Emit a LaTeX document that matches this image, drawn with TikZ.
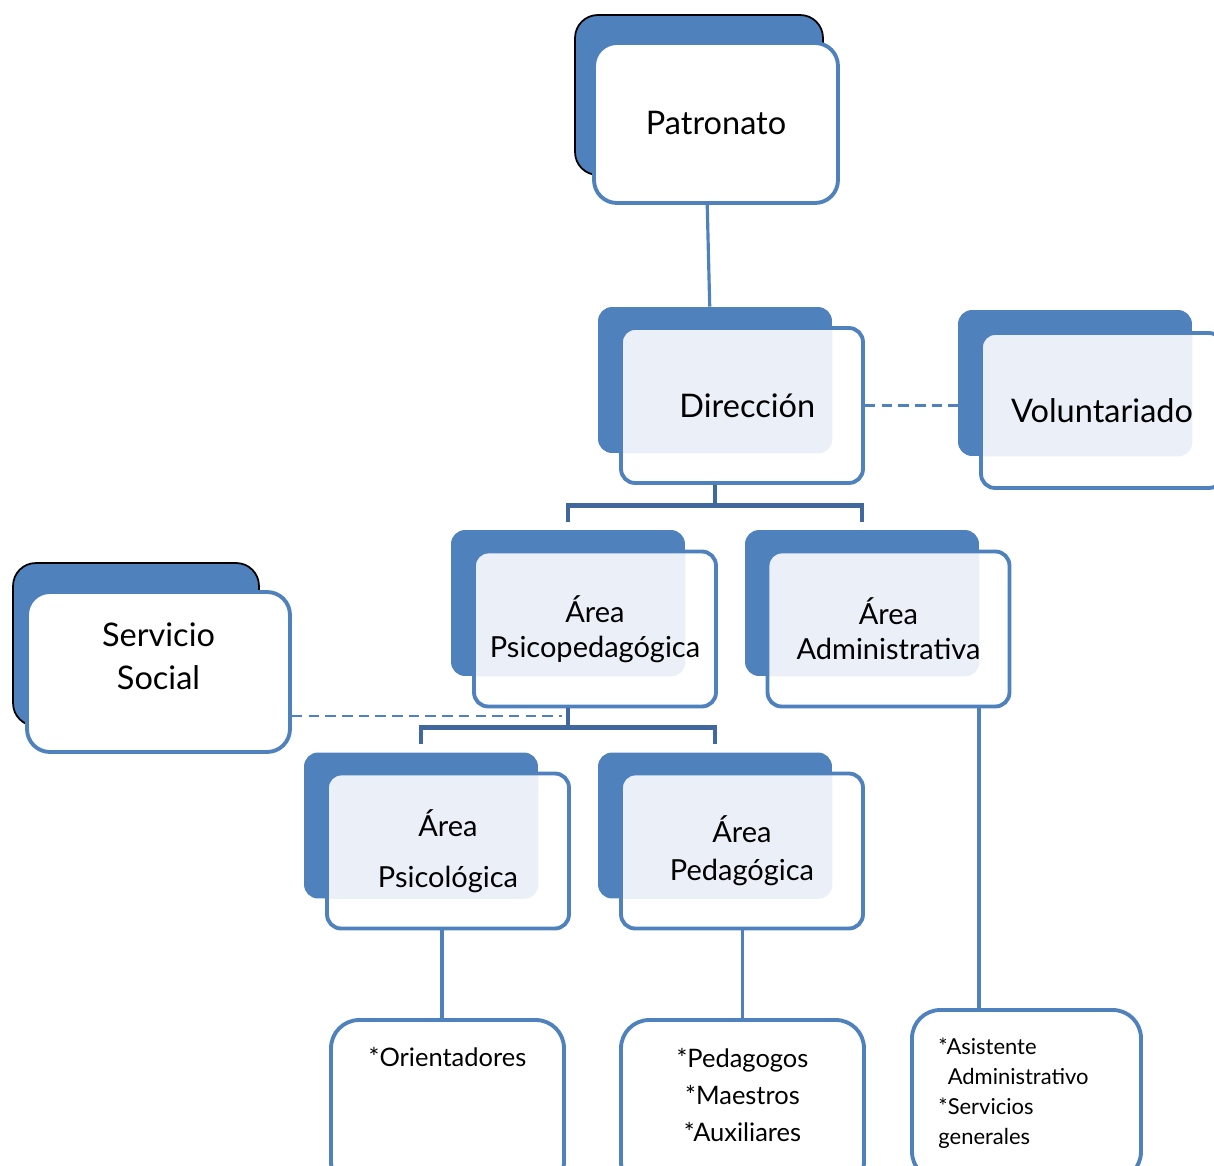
\documentclass[tikz,border=0pt]{standalone}
\usepackage{fontspec}
\setmainfont{Lato}
\usetikzlibrary{positioning,calc}
\definecolor{orgblue}{HTML}{4F81BD}
\definecolor{orgdark}{HTML}{41689C}
\definecolor{orgpale}{HTML}{EBF0F8}
\newcommand{\bigtxt}{\fontsize{18.5}{22}\selectfont}
\newcommand{\midtxt}{\fontsize{16.5}{20}\selectfont}
\newcommand{\leaftxt}{\fontsize{14.5}{17.5}\selectfont}
\newcommand{\smalltxt}{\fontsize{12.5}{15}\selectfont}

\begin{document}
\begin{tikzpicture}[x=0.02cm, y=-0.02cm,
  backbox/.style={rectangle, rounded corners=8pt, fill=orgblue, inner sep=0pt,
    minimum width=4.68cm, minimum height=2.92cm},
  frontbox/.style={rectangle, rounded corners=8pt, draw=orgblue, line width=2.2pt,
    fill=white, align=center, font=\midtxt, inner sep=0pt,
    minimum width=4.84cm, minimum height=3.1cm,
    path picture={\fill[orgpale, rounded corners=8pt]
      ([shift={(-40,-40)}]path picture bounding box.north west) rectangle (#1.south east);}},
  topback/.style={rectangle, rounded corners=13pt, fill=orgblue, draw=black, line width=1pt,
    inner sep=0pt, minimum width=4.96cm, minimum height=3.2cm},
  topfront/.style={rectangle, rounded corners=13pt, fill=white, draw=orgblue, line width=2.2pt,
    inner sep=0pt, minimum width=4.88cm, minimum height=3.2cm, align=center, font=\bigtxt},
  leaf/.style={rectangle, rounded corners=16pt, draw=orgblue, line width=2.2pt, fill=white,
    minimum height=3.4cm},
  leaftext/.style={inner sep=0pt, align=center, font=\leaftxt},
  tree/.style={orgdark, line width=2.8pt},
  link/.style={orgblue, line width=2.2pt},
  dashlink/.style={orgblue, line width=1.3pt, dash pattern=on 6pt off 3.5pt}]

\useasboundingbox (0,0) rectangle (1214,1166);

% upper levels
\node[topback] (patb) at (699,95) {};
\node[topfront] (patf) at (716,123) {Patronato};

\node[backbox] (dirb) at (715,380) {};
\node[frontbox=dirb, font=\bigtxt] (dirf) at (742,405.5) {\hspace{6pt}Dirección};

\node[backbox] (volb) at (1075,383) {};
\node[frontbox=volb, font=\bigtxt] (volf) at (1102,410.5) {Voluntariado};

\node[topback, minimum width=4.92cm, minimum height=3.26cm] (ssb) at (136,644.5) {};
\node[topfront, minimum width=5.26cm, text depth=18pt] (ssf) at (158.5,672) {Servicio\\[2pt]Social};

% areas
\node[backbox] (psicopedb) at (568,603) {};
\node[frontbox=psicopedb] (psicopedf) at (595,629) {Área\\Psicopedagógica};

\node[backbox] (adminb) at (862,603) {};
\node[frontbox=adminb] (adminf) at (888.5,629) {Área\\Administrativa};

\node[backbox] (psicolb) at (421,825.5) {};
\node[frontbox=psicolb] (psicolf) at (448,851) {Área\\[9pt]Psicológica};

\node[backbox] (pedb) at (715,825.5) {};
\node[frontbox=pedb] (pedf) at (742,851) {Área\\[1.5pt]Pedagógica};

% staff
\node[leaf, minimum width=4.66cm] (orient) at (447.5,1105) {};
\node[leaftext, below=0.58cm of orient.north] (orienttxt) {*Orientadores};

\node[leaf, minimum width=4.86cm] (pedag) at (742.5,1105) {};
\node[leaftext, below=0.6cm of pedag.north] (pedagtxt) {*Pedagogos\\[3.5pt]*Maestros\\[3.5pt]*Auxiliares};

\node[leaf, minimum width=4.58cm] (asist) at (1026.5,1095) {};
\node[leaftext, align=left, font=\smalltxt, below right=0.6cm and 0.56cm of asist.north west] (asisttxt)
  {*Asistente\\[2pt]\phantom{*}Administrativo\\[2pt]*Servicios\\[2pt]generales};

% connectors
\draw[link, line width=1.8pt] ([xshift=-5pt]patf.south) -- ([xshift=-3pt]dirb.north);
\draw[dashlink] (dirf.east) -- (dirf.east -| volb.west);

\coordinate (dj) at ($(dirb.south)+(0,52)$);
\draw[tree] (dirf.south -| dirb.south) -- (dj);
\draw[tree] ($(psicopedb.north)+(0,-8)$) |- (dj) -| ($(adminb.north)+(0,-8)$);

\coordinate (pj) at ($(psicopedb.south)+(0,51)$);
\draw[tree] (psicopedf.south -| psicopedb.south) -- (pj);
\draw[tree] ($(psicolb.north)+(0,-8)$) |- (pj) -| ($(pedb.north)+(0,-8)$);

\coordinate (sj) at ($(pj)+(-6,-11)$);
\draw[dashlink] (ssf.east |- sj) -- (sj);

\draw[link] ([xshift=-3pt]orient.north) -- ([xshift=-3pt]orient.north |- psicolf.south);
\draw[link] (pedag.north) -- (pedag.north |- pedf.south);
\draw[link] (adminf.south -| adminb.east) -- (adminb.east |- asist.north);
\end{tikzpicture}
\end{document}
